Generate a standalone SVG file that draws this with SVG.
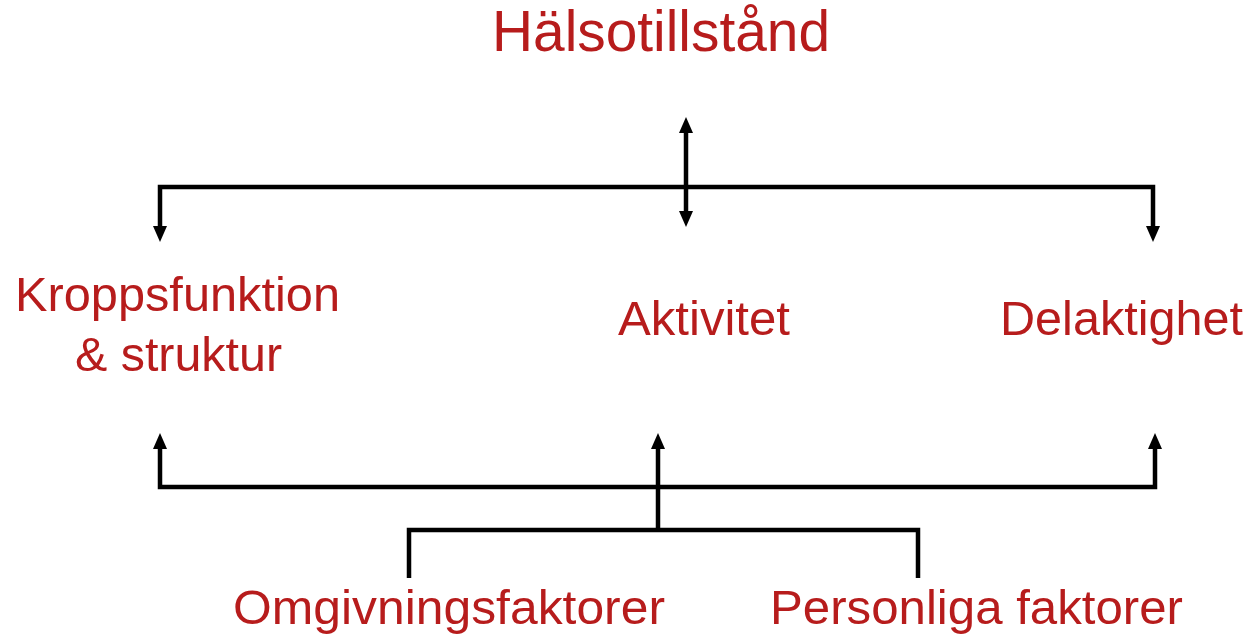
<svg xmlns="http://www.w3.org/2000/svg" width="1252" height="641" viewBox="0 0 1252 641">
<style>
.t{font-family:"Liberation Sans",Arial,sans-serif;fill:#B71C1C;font-size:49px}
.c{fill:none;stroke:#000;stroke-width:4.5;stroke-linejoin:miter}
</style>
<defs>
<marker id="ah" markerUnits="userSpaceOnUse" markerWidth="16" markerHeight="14" refX="5" refY="7" orient="auto-start-reverse">
<path d="M0,0 L16,7 L0,14 z" fill="#000"/>
</marker>
</defs>
<rect width="1252" height="641" fill="#fff"/>
<g id="connectors">
<path class="c" d="M160,231 V187 H1153 V231" marker-start="url(#ah)" marker-end="url(#ah)"/>
<path class="c" d="M686,128 V216" marker-start="url(#ah)" marker-end="url(#ah)"/>
<path class="c" d="M160,444 V487 H1155 V444" marker-start="url(#ah)" marker-end="url(#ah)"/>
<path class="c" d="M658,530 V444" marker-end="url(#ah)"/>
<path class="c" d="M409,578 V530 H918 V578"/>
</g>
<g id="halsotillstand"><text class="t" x="492" y="51" style="font-size:57px" textLength="338" lengthAdjust="spacingAndGlyphs">Hälsotillstånd</text></g>
<g id="kroppsfunktion"><text class="t" x="15" y="311" textLength="325" lengthAdjust="spacingAndGlyphs">Kroppsfunktion</text><text class="t" x="75" y="371" textLength="207" lengthAdjust="spacingAndGlyphs">&amp; struktur</text></g>
<g id="aktivitet"><text class="t" x="618" y="335" textLength="172" lengthAdjust="spacingAndGlyphs">Aktivitet</text></g>
<g id="delaktighet"><text class="t" x="1000" y="335" textLength="243" lengthAdjust="spacingAndGlyphs">Delaktighet</text></g>
<g id="omgivningsfaktorer"><text class="t" x="233" y="624" textLength="432" lengthAdjust="spacingAndGlyphs">Omgivningsfaktorer</text></g>
<g id="personliga"><text class="t" x="770" y="624" textLength="413" lengthAdjust="spacingAndGlyphs">Personliga faktorer</text></g>
</svg>
